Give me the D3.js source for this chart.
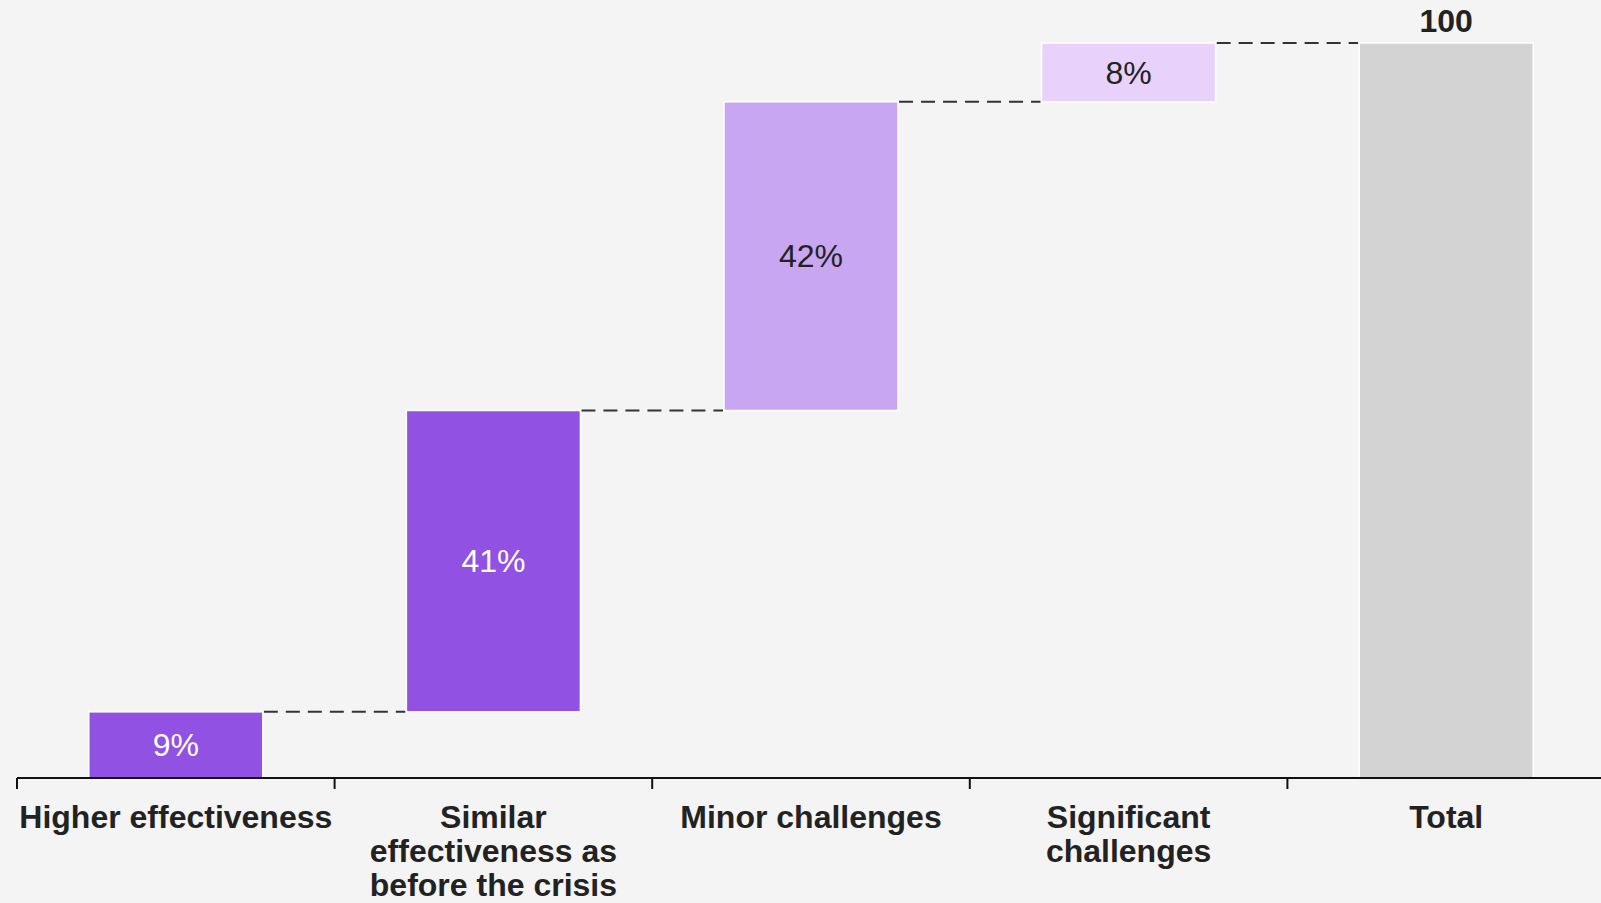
<!DOCTYPE html>
<html>
<head>
<meta charset="utf-8">
<script src="https://cdn.jsdelivr.net/npm/d3@7"></script>
<style>
  html, body { margin: 0; padding: 0; background: #F4F4F4; }
  svg { display: block; font-family: "Liberation Sans", Arial, sans-serif; }
</style>
</head>
<body>
<svg id="chart" width="1601" height="903"></svg>
<script>
const categories = ["Higher effectiveness", "Similar effectiveness as before the crisis", "Minor challenges", "Significant challenges", "Total"];
const values = [9, 41, 42, 8, 100];
const isTotal = [false, false, false, false, true];
const valueLabels = ["9%", "41%", "42%", "8%", "100"];
const barColors = ["#9152E3", "#9152E3", "#C8A6F1", "#E8D2FB", "#D3D3D3"];
const labelColors = ["#FFFFFF", "#FFFFFF", "#222222", "#222222", "#222222"];

const svg = d3.select("#chart");
const axisY = 778;
const x = d3.scaleBand().domain(categories).range([17, 1605]).paddingInner(0).paddingOuter(0);
const y = d3.scaleLinear().domain([0, 100]).range([axisY, 43]);
const barW = x.bandwidth() * 0.548;

// waterfall data
let cum = 0;
const data = categories.map((c, i) => {
  let start, end;
  if (isTotal[i]) { start = 0; end = values[i]; }
  else { start = cum; end = cum + values[i]; cum = end; }
  return { c, i, start, end, v: values[i] };
});

// connectors
const g = svg.append("g");
data.slice(0, -1).forEach((d, i) => {
  const n = data[i + 1];
  g.append("line")
    .attr("x1", x(d.c) + x.bandwidth() / 2 + barW / 2 + 1)
    .attr("x2", x(n.c) + x.bandwidth() / 2 - barW / 2 - 1)
    .attr("y1", y(d.end)).attr("y2", y(d.end))
    .attr("stroke", "#333").attr("stroke-width", 2)
    .attr("stroke-dasharray", "14,8");
});

// bars
g.selectAll("rect.bar").data(data).join("rect")
  .attr("class", "bar")
  .attr("x", d => x(d.c) + x.bandwidth() / 2 - barW / 2)
  .attr("width", barW)
  .attr("y", d => y(d.end))
  .attr("height", d => y(d.start) - y(d.end))
  .attr("fill", (d, i) => barColors[i])
  .attr("stroke", "#FFFFFF").attr("stroke-width", 1.5);

// value labels
g.selectAll("text.val").data(data.filter(d => !isTotal[d.i])).join("text")
  .attr("class", "val")
  .attr("x", d => x(d.c) + x.bandwidth() / 2)
  .attr("y", d => (y(d.start) + y(d.end)) / 2)
  .attr("dy", "0.35em")
  .attr("text-anchor", "middle")
  .attr("font-size", 32)
  .attr("fill", d => labelColors[d.i])
  .text(d => valueLabels[d.i]);

data.filter(d => isTotal[d.i]).forEach(d => {
  g.append("text")
    .attr("x", x(d.c) + x.bandwidth() / 2)
    .attr("y", y(d.end) - 11)
    .attr("text-anchor", "middle")
    .attr("font-size", 32).attr("font-weight", "bold")
    .attr("fill", "#222")
    .text(valueLabels[d.i]);
});

// axis
const ax = svg.append("g");
ax.append("line").attr("x1", 17).attr("x2", 1601).attr("y1", axisY).attr("y2", axisY)
  .attr("stroke", "#111").attr("stroke-width", 2);
categories.forEach(c => {
  ax.append("line").attr("x1", x(c)).attr("x2", x(c)).attr("y1", axisY).attr("y2", axisY + 11)
    .attr("stroke", "#111").attr("stroke-width", 2);
});

// category labels with wrapping
categories.forEach(c => {
  const t = ax.append("text")
    .attr("x", x(c) + x.bandwidth() / 2)
    .attr("y", 828)
    .attr("text-anchor", "middle")
    .attr("font-size", 32).attr("font-weight", "bold")
    .attr("fill", "#222");
  const words = c.split(" ");
  let line = [];
  let lineNo = 0;
  let tspan = t.append("tspan").attr("x", x(c) + x.bandwidth() / 2).attr("dy", 0);
  words.forEach(w => {
    line.push(w);
    tspan.text(line.join(" "));
    if (tspan.node().getComputedTextLength() > x.bandwidth() - 2 && line.length > 1) {
      line.pop();
      tspan.text(line.join(" "));
      line = [w];
      lineNo++;
      tspan = t.append("tspan").attr("x", x(c) + x.bandwidth() / 2).attr("dy", 34).text(w);
    }
  });
});
</script>
</body>
</html>
